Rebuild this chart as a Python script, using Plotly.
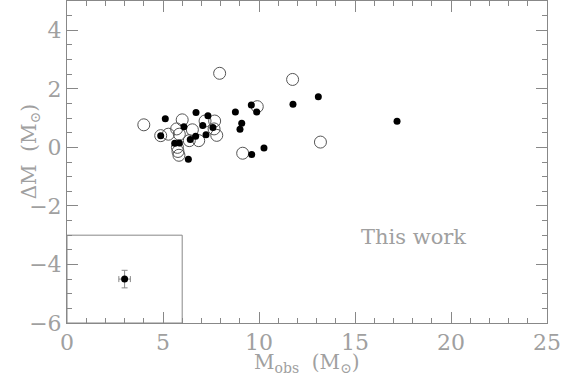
import plotly.graph_objects as go

# filled points (M_obs, dM)
filled_x = [5.12, 4.88, 6.72, 7.34, 6.09, 7.07, 7.60, 6.70, 6.42, 7.24, 5.61, 5.85, 6.32,
            8.77, 9.60, 9.88, 9.10, 9.01, 9.62, 10.26, 11.77, 13.09, 17.19]
filled_y = [0.98, 0.40, 1.19, 1.08, 0.70, 0.75, 0.68, 0.38, 0.27, 0.43, 0.14, 0.15, -0.41,
            1.21, 1.45, 1.21, 0.82, 0.62, -0.24, -0.02, 1.47, 1.73, 0.89]

# open circles
open_x = [4.00, 6.00, 4.88, 5.28, 5.71, 5.85, 6.53, 6.37, 6.86, 7.19, 7.69, 7.66, 7.80,
          5.75, 5.78, 5.83, 9.15, 9.91, 7.95, 11.75, 13.20]
open_y = [0.77, 0.94, 0.40, 0.45, 0.63, 0.45, 0.60, 0.23, 0.23, 0.90, 0.90, 0.63, 0.41,
          0.00, -0.14, -0.27, -0.20, 1.39, 2.53, 2.32, 0.18]

# typical error bar shown in the inset box
err_x, err_y = [3.0], [-4.5]
err_dx, err_dy = [0.3], [0.3]

grey = "#888888"
txt = "#a0a0a0"
font = "DejaVu Serif"

fig = go.Figure()
fig.add_trace(go.Scatter(x=open_x, y=open_y, mode="markers",
                         marker=dict(symbol="circle-open", size=12, color="#555555",
                                     line=dict(width=1, color="#555555"))))
fig.add_trace(go.Scatter(x=filled_x, y=filled_y, mode="markers",
                         marker=dict(size=7, color="black")))
fig.add_trace(go.Scatter(x=err_x, y=err_y, mode="markers",
                         marker=dict(size=7, color="black"),
                         error_x=dict(type="data", array=err_dx, color=grey, thickness=1, width=3),
                         error_y=dict(type="data", array=err_dy, color=grey, thickness=1, width=3)))

# inset box
fig.add_shape(type="rect", x0=0, x1=6, y0=-6, y1=-3, line=dict(color=grey, width=1))

fig.add_annotation(x=18.07, y=-3.05, text="This work", showarrow=False,
                   font=dict(family=font, size=21, color=txt))

# axis titles
fig.add_annotation(xref="paper", yref="paper", x=0.5, y=0, yshift=-40, yanchor="middle",
                   text="M<sub>obs</sub>  (M<sub>⊙</sub>)", showarrow=False,
                   font=dict(family=font, size=20, color=txt))
fig.add_annotation(xref="paper", yref="paper", x=0, xshift=-52, y=0.53, textangle=-90,
                   text="ΔM  (M<sub>⊙</sub>)", showarrow=False,
                   font=dict(family=font, size=20, color=txt))

axis = dict(showgrid=False, zeroline=False, showline=True, linecolor=grey, linewidth=1,
            mirror="ticks", ticks="inside", ticklen=11, tickcolor=grey, tickwidth=1,
            automargin=False, tickfont=dict(family=font, size=22, color=txt))

fig.update_xaxes(range=[0, 25], dtick=5, **axis,
                 minor=dict(dtick=1, ticks="inside", ticklen=5, tickcolor=grey))
fig.update_yaxes(range=[-6, 5], dtick=2, **axis,
                 minor=dict(dtick=0.5, ticks="inside", ticklen=5, tickcolor=grey))

fig.update_layout(width=562, height=381, showlegend=False,
                  plot_bgcolor="white", paper_bgcolor="white",
                  margin=dict(l=67, r=15, t=1, b=58))

fig.write_html("out.html", config={"displayModeBar": False},
               post_script="document.body.style.margin='0';")
